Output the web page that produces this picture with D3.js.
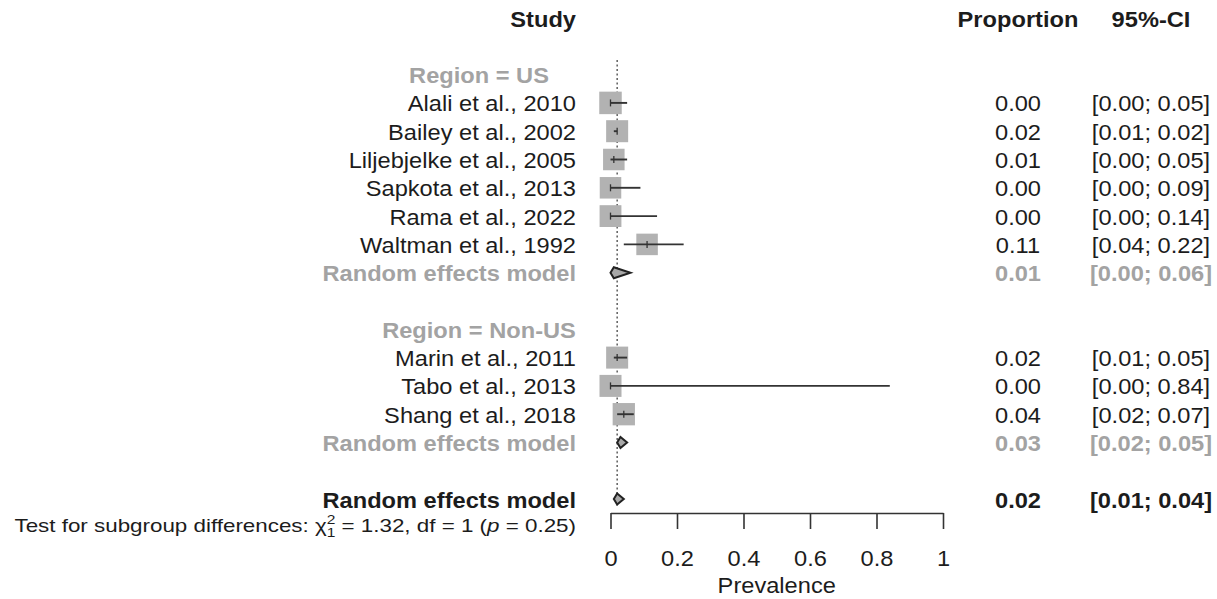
<!DOCTYPE html>
<html>
<head>
<meta charset="utf-8">
<script src="https://cdn.jsdelivr.net/npm/d3@7"></script>
<style>
  html, body { margin: 0; padding: 0; background: #fff; }
  svg { display: block; }
  text { font-family: "Liberation Sans", Arial, Helvetica, sans-serif; }
</style>
</head>
<body>
<svg id="chart" width="1217" height="599"></svg>
<script>
// Study-level estimates (proportion with 95% CI) and relative weights
const studies = ["Alali et al., 2010", "Bailey et al., 2002", "Liljebjelke et al., 2005",
                 "Sapkota et al., 2013", "Rama et al., 2022", "Waltman et al., 1992",
                 "Marin et al., 2011", "Tabo et al., 2013", "Shang et al., 2018"];
const region = ["US", "US", "US", "US", "US", "US", "Non-US", "Non-US", "Non-US"];
const proportion = [0.00, 0.02, 0.01, 0.00, 0.00, 0.11, 0.02, 0.00, 0.04];
const lower = [0.00, 0.01, 0.00, 0.00, 0.00, 0.04, 0.01, 0.00, 0.02];
const upper = [0.05, 0.02, 0.05, 0.09, 0.14, 0.22, 0.05, 0.84, 0.07];
const weight = [11.7, 11.2, 10.7, 10.7, 11.0, 10.7, 11.2, 11.2, 11.5];

// Pooled random effects estimates per subgroup and overall
const groups = ["US", "Non-US"];
const groupEst = [0.01, 0.03];
const groupLower = [0.00, 0.02];
const groupUpper = [0.06, 0.05];
const overallEst = 0.02, overallLower = 0.01, overallUpper = 0.04;

const xTicks = [0, 0.2, 0.4, 0.6, 0.8, 1];
const heterogeneity = { chi2: "1.32", df: "1", p: "0.25" };

const svg = d3.select("#chart");
const FS = 22, SX = 1.075;           // font size and horizontal text stretch
const black = "#1c1c1c", grey = "#a3a3a3";

const x = d3.scaleLinear().domain([0, 1]).range([610.5, 943]);
const rowStep = 28.3;
const baseline = i => 26.5 + i * rowStep;    // text baseline for row i
const mid = i => baseline(i) - 8.5;          // vertical centre of marks in row i
const side = d3.scaleSqrt().domain([0, d3.max(weight)]).range([0, 22.5]);

const studyX = 576, groupX = 479, propX = 1018, ciX = 1151;
const f2 = d3.format(".2f");
const ciText = (l, u) => `[${f2(l)}; ${f2(u)}]`;

// Text helper: place an anchored label with the horizontal stretch applied
function label(parent, px, py, str, anchor, opts = {}) {
  return parent.append("text")
    .attr("transform", `translate(${px},${py}) scale(${SX},1)`)
    .attr("text-anchor", anchor)
    .attr("font-size", opts.size || FS)
    .attr("font-weight", opts.bold ? "bold" : null)
    .attr("fill", opts.fill || black)
    .text(str);
}

// Build the row layout
const rows = [];
rows.push({ type: "header" });
rows.push({ type: "blank" });
groups.forEach((g, gi) => {
  rows.push({ type: "group", label: `Region = ${g}` });
  studies.forEach((s, i) => { if (region[i] === g) rows.push({ type: "study", i }); });
  rows.push({ type: "pooled", label: "Random effects model", est: groupEst[gi], lo: groupLower[gi], hi: groupUpper[gi], sub: true });
  rows.push({ type: "blank" });
});
rows.push({ type: "pooled", label: "Random effects model", est: overallEst, lo: overallLower, hi: overallUpper, sub: false });
rows.forEach((r, k) => r.k = k);

// Column headers
const head = svg.append("g");
label(head, studyX, baseline(0), "Study", "end", { bold: true });
label(head, propX, baseline(0), "Proportion", "middle", { bold: true });
label(head, ciX, baseline(0), "95%-CI", "middle", { bold: true });

// Reference line at the overall estimate
svg.append("line")
  .attr("x1", x(overallEst)).attr("x2", x(overallEst))
  .attr("y1", 60).attr("y2", 506)
  .attr("stroke", "#444").attr("stroke-width", 1.3).attr("stroke-dasharray", "2,2.5");

const marks = svg.append("g");
const texts = svg.append("g");

rows.forEach(r => {
  if (r.type === "group") {
    label(texts, groupX, baseline(r.k), r.label, "middle", { bold: true, fill: grey });
  } else if (r.type === "study") {
    const i = r.i, cy = mid(r.k), s = side(weight[i]);
    label(texts, studyX, baseline(r.k), studies[i], "end");
    marks.append("rect")
      .attr("x", x(proportion[i]) - s / 2).attr("y", cy - s / 2)
      .attr("width", s).attr("height", s).attr("fill", "#b2b2b2");
    marks.append("line")
      .attr("x1", x(lower[i])).attr("x2", x(upper[i])).attr("y1", cy).attr("y2", cy)
      .attr("stroke", "#333").attr("stroke-width", 1.9);
    marks.append("line")
      .attr("x1", x(proportion[i])).attr("x2", x(proportion[i])).attr("y1", cy - 3.5).attr("y2", cy + 3.5)
      .attr("stroke", "#333").attr("stroke-width", 1.3);
    label(texts, propX, baseline(r.k), f2(proportion[i]), "middle");
    label(texts, ciX, baseline(r.k), ciText(lower[i], upper[i]), "middle");
  } else if (r.type === "pooled") {
    const col = r.sub ? grey : black, cy = mid(r.k), h = 5.5;
    label(texts, studyX, baseline(r.k), r.label, "end", { bold: true, fill: col });
    const pts = [[x(r.lo), cy], [x(r.est), cy - h], [x(r.hi), cy], [x(r.est), cy + h]];
    marks.append("path").attr("d", d3.line()(pts) + "Z")
      .attr("fill", "#a8a8a8").attr("stroke", "#222").attr("stroke-width", 2);
    label(texts, propX, baseline(r.k), f2(r.est), "middle", { bold: true, fill: col });
    label(texts, ciX, baseline(r.k), ciText(r.lo, r.hi), "middle", { bold: true, fill: col });
  }
});

// Test for subgroup differences, stretched to span from the left margin to the study column
const t = svg.append("text").attr("font-size", 18).attr("fill", black).attr("text-anchor", "end");
t.append("tspan").text("Test for subgroup differences: \u03c7");
const sup = t.append("tspan").attr("font-size", 12.5).attr("dy", -8).text("2");
const supW = sup.node().getComputedTextLength();
t.append("tspan").attr("font-size", 12.5).attr("dx", -supW).attr("dy", 13).text(heterogeneity.df);
t.append("tspan").attr("dy", -5).text(` = ${heterogeneity.chi2}, df = ${heterogeneity.df} (`);
t.append("tspan").attr("font-style", "italic").text("p");
t.append("tspan").text(` = ${heterogeneity.p})`);
const testW = t.node().getBBox().width;
t.attr("transform", `translate(${studyX},532) scale(${(studyX - 14) / testW},1)`);

// Prevalence axis
const axis = d3.axisBottom(x).tickValues(xTicks).tickFormat(d3.format(""))
  .tickSize(16).tickSizeOuter(0).tickPadding(21);
const ax = svg.append("g").attr("transform", "translate(0,513)").call(axis);
ax.select(".domain").attr("stroke", "#333").attr("stroke-width", 1.6);
ax.selectAll(".tick line").attr("stroke", "#333").attr("stroke-width", 1.6);
ax.selectAll(".tick text").attr("font-size", FS).attr("fill", black)
  .attr("font-family", "'Liberation Sans', Arial, Helvetica, sans-serif")
  .attr("transform", `scale(${SX},1)`);
label(svg, x(0.5), 593, "Prevalence", "middle");
</script>
</body>
</html>
